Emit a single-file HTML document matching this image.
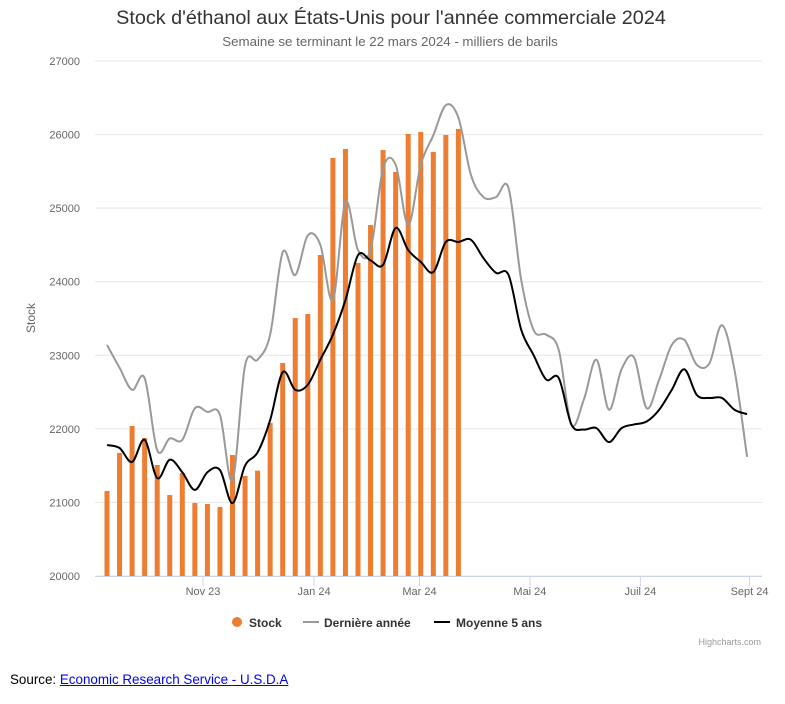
<!DOCTYPE html>
<html><head><meta charset="utf-8"><style>
body{margin:0;background:#fff;font-family:"Liberation Sans",sans-serif;}
svg text{font-family:"Liberation Sans",sans-serif;}
#src{position:absolute;left:10px;top:672px;font-size:13.4px;color:#000;}
#src a{color:#00f;text-decoration:underline;}
</style></head><body>
<svg id="chart" width="785" height="660" style="position:absolute;left:0;top:0">
<text x="391" y="24" text-anchor="middle" font-size="19.8" fill="#333">Stock d'éthanol aux États-Unis pour l'année commerciale 2024</text>
<text x="390" y="46" text-anchor="middle" font-size="13.3" fill="#666">Semaine se terminant le 22 mars 2024 - milliers de barils</text>
<g id="grid"></g><g id="bars"></g><g id="lines"></g><g id="axes"></g>
<g>
<g><circle cx="237" cy="622" r="5" fill="#ED7D31"/><text x="249" y="627" font-size="12" font-weight="bold" fill="#333">Stock</text></g>
<g><line x1="303" y1="622" x2="319" y2="622" stroke="#999" stroke-width="2"/><text x="324" y="627" font-size="12" font-weight="bold" fill="#333">Dernière année</text></g>
<g><line x1="434" y1="622" x2="450" y2="622" stroke="#000" stroke-width="2"/><text x="456" y="627" font-size="12" font-weight="bold" fill="#333">Moyenne 5 ans</text></g>
</g>
<text x="761" y="645" text-anchor="end" font-size="9" fill="#999">Highcharts.com</text>
</svg>
<div id="src">Source: <a>Economic Research Service - U.S.D.A</a></div>
<script>
const stock=[21155,21672,22040,21876,21509,21100,21400,20992,20978,20937,21645,21360,21432,22080,22895,23507,23561,24363,25682,25804,24254,24770,25790,25492,26008,26035,25765,25994,26076];
const lastYear=[23140,22830,22530,22690,21710,21870,21850,22280,22230,22190,21300,22860,22940,23280,24400,24090,24630,24500,23750,25080,24430,24430,25540,25590,24770,25590,25990,26400,26230,25450,25150,25150,25270,24030,23340,23280,23070,22060,22400,22940,22260,22810,22970,22280,22670,23140,23210,22870,22890,23410,22800,21620];
const avg5=[21780,21740,21550,21850,21330,21580,21410,21170,21410,21440,20990,21500,21680,22120,22770,22530,22600,22940,23280,23750,24360,24290,24230,24730,24430,24270,24130,24540,24540,24570,24320,24120,24090,23350,23000,22670,22690,22060,21990,22010,21820,22010,22060,22100,22260,22530,22810,22460,22420,22420,22260,22200];
const yTicks=[20000,21000,22000,23000,24000,25000,26000,27000];
const xTickLabels=["Nov 23","Jan 24","Mar 24","Mai 24","Juil 24","Sept 24"];
const xTickWeeks=[7.65,16.5,24.9,33.7,42.5,51.2];
const NS="http://www.w3.org/2000/svg";
const L=95,R=762,T=61,B=576;
const y=v=>B-(v-20000)/7000*(B-T);
const x=i=>107+12.55*i;
function mk(tag,attrs,parent){const e=document.createElementNS(NS,tag);for(const k in attrs)e.setAttribute(k,attrs[k]);parent.appendChild(e);return e;}
const grid=document.getElementById('grid'),axes=document.getElementById('axes');
yTicks.forEach(v=>{
 const g=mk('line',{x1:L,x2:R,y1:y(v),y2:y(v),stroke:'#e6e6e6','stroke-width':1},grid);
 
 
 const t=mk('text',{x:80,y:y(v)+4,'text-anchor':'end','font-size':11,fill:'#666'},axes);t.textContent=v;
 
 
});
const yt=mk('text',{x:35,y:318,'text-anchor':'middle','font-size':12,fill:'#666',transform:'rotate(-90 35 318)'},axes);yt.textContent='Stock';


const xa=mk('line',{x1:L,x2:R,y1:B+0.5,y2:B+0.5,stroke:'#ccd6eb'},axes);


xTickWeeks.forEach((w,k)=>{
 const tk=mk('line',{x1:x(w),x2:x(w),y1:B,y2:B+10,stroke:'#ccd6eb'},axes);
 
 
 const t=mk('text',{x:x(w),y:B+19,'text-anchor':'middle','font-size':11,fill:'#666'},axes);t.textContent=xTickLabels[k];
 
 
});
const bars=document.getElementById('bars');
stock.forEach((v,i)=>{
 const r=mk('rect',{x:x(i)-2.5,y:y(v),width:5,height:B-y(v),fill:'#ED7D31'},bars);
 
 
});
function path(arr){
 const p=arr.map((v,i)=>[x(i),y(v)]);let d='M'+p[0][0]+','+p[0][1];
 for(let i=0;i<p.length-1;i++){const p0=p[i-1]||p[i],p1=p[i],p2=p[i+1],p3=p[i+2]||p2;
  const c1=[p1[0]+(p2[0]-p0[0])/6,p1[1]+(p2[1]-p0[1])/6],c2=[p2[0]-(p3[0]-p1[0])/6,p2[1]-(p3[1]-p1[1])/6];
  d+=`C${c1[0]},${c1[1]} ${c2[0]},${c2[1]} ${p2[0]},${p2[1]}`;}
 return d;}
const lines=document.getElementById('lines');
const g1=mk('path',{d:path(lastYear),fill:'none',stroke:'#999','stroke-width':2},lines);


const g2=mk('path',{d:path(avg5),fill:'none',stroke:'#000','stroke-width':2},lines);


</script>
</body></html>
